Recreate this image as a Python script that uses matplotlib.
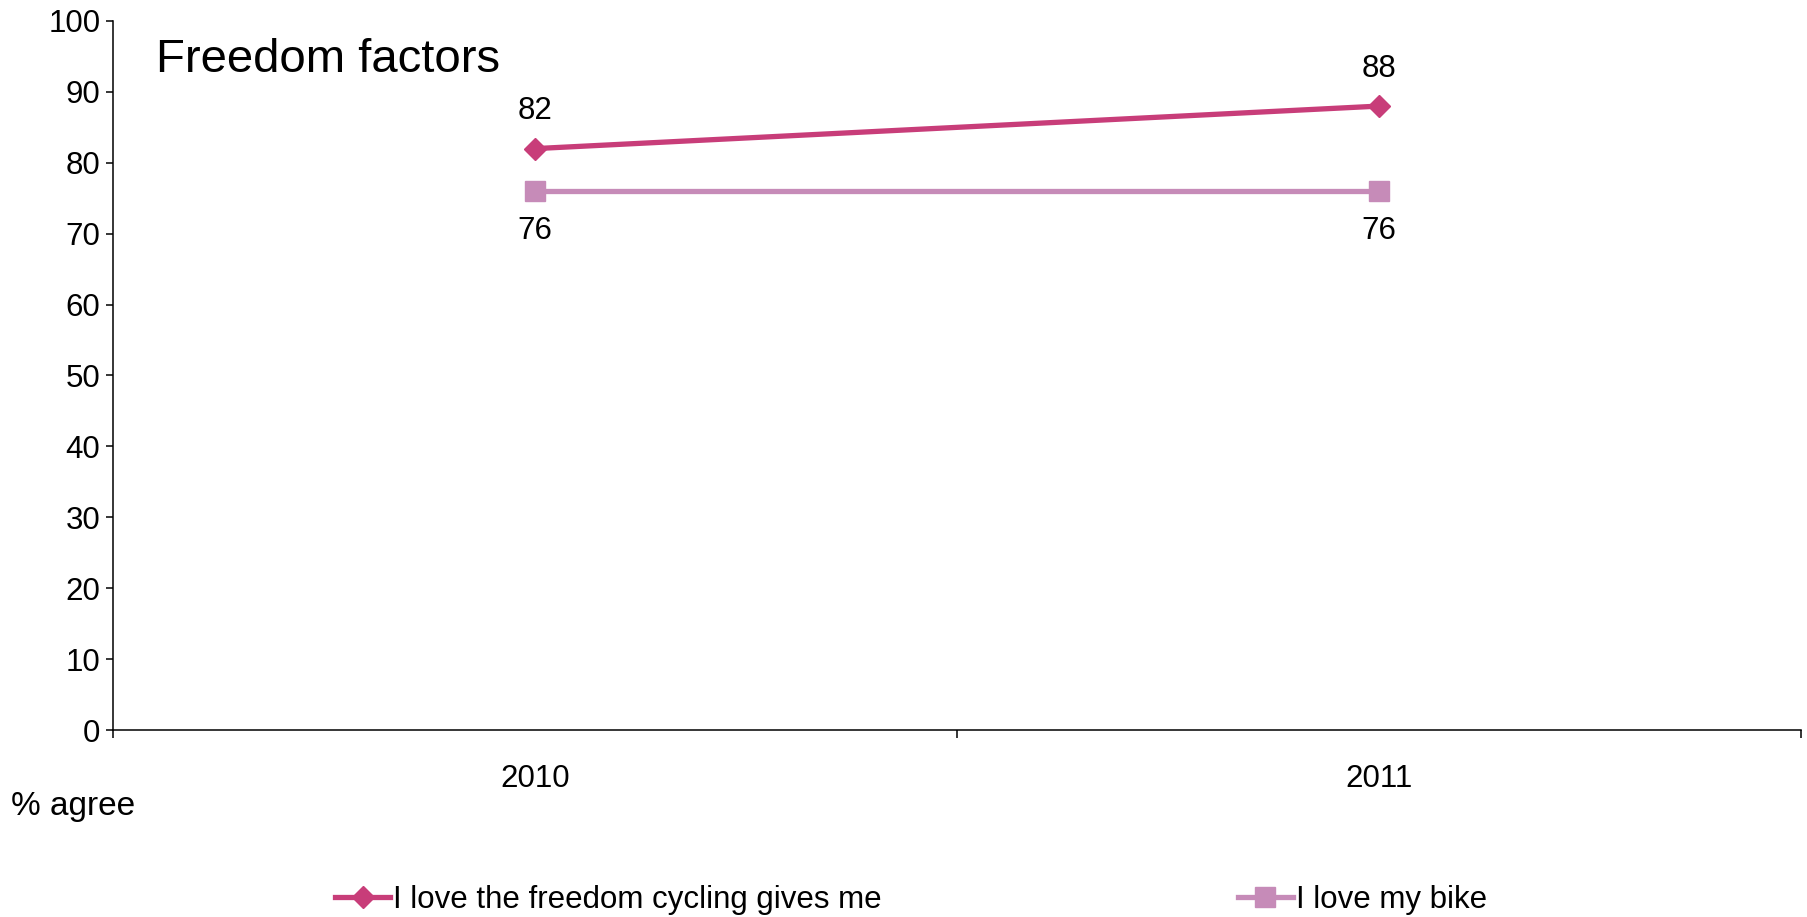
import matplotlib
matplotlib.use("Agg")
import matplotlib.pyplot as plt

years = ["2010", "2011"]
freedom = [82, 88]
love_bike = [76, 76]
series_names = ["I love the freedom cycling gives me", "I love my bike"]
yticks = list(range(0, 101, 10))

plt.rcParams['font.family'] = ['Liberation Sans', 'DejaVu Sans']

W, H = 1808, 917
fig = plt.figure(figsize=(W / 100, H / 100), dpi=100)
ax = fig.add_axes([113 / W, 1 - 730 / H, (1801 - 113) / W, (730 - 21) / H])

c1 = "#C83D79"
c2 = "#C68BB8"
fs = 22.5
x = list(range(len(years)))
l1, = ax.plot(x, freedom, color=c1, lw=3.8, marker="D", ms=11, label=series_names[0])
l2, = ax.plot(x, love_bike, color=c2, lw=3.8, marker="s", ms=14, label=series_names[1])

for xi, v in zip(x, freedom):
    ax.annotate(str(v), (xi, v), xytext=(0, 27), textcoords="offset points",
                ha="center", va="center", fontsize=fs)
for xi, v in zip(x, love_bike):
    ax.annotate(str(v), (xi, v), xytext=(0, -29), textcoords="offset points",
                ha="center", va="center", fontsize=fs)

ax.set_xlim(-0.5, len(years) - 0.5)
ax.set_ylim(0, 100)
ax.set_yticks(yticks)
ax.tick_params(axis="y", direction="out", length=5, width=1.1, labelsize=fs, pad=4)

# category boundaries as major ticks, labels on minor ticks
ax.set_xticks([i - 0.5 for i in range(len(years) + 1)])
ax.set_xticklabels([])
ax.set_xticks(x, minor=True)
ax.set_xticklabels(years, minor=True)
ax.tick_params(axis="x", which="major", direction="out", length=6, width=1.1)
ax.tick_params(axis="x", which="minor", length=0, labelsize=fs, pad=24.5)

for s in ["top", "right"]:
    ax.spines[s].set_visible(False)
for s in ["left", "bottom"]:
    ax.spines[s].set_linewidth(1.1)

fig.text(156 / W, 1 - 60 / H, "Freedom factors", fontsize=34, va="center", ha="left")
fig.text(11 / W, 1 - 806 / H, "% agree", fontsize=24, va="center", ha="left")

fig.legend(handles=[l1, l2], loc="center", bbox_to_anchor=(911 / W, 1 - 900 / H),
           ncol=2, frameon=False, fontsize=fs, handlelength=1.75, handletextpad=0.1,
           columnspacing=11.4, borderpad=0)

fig.savefig("out.png", dpi=100)
